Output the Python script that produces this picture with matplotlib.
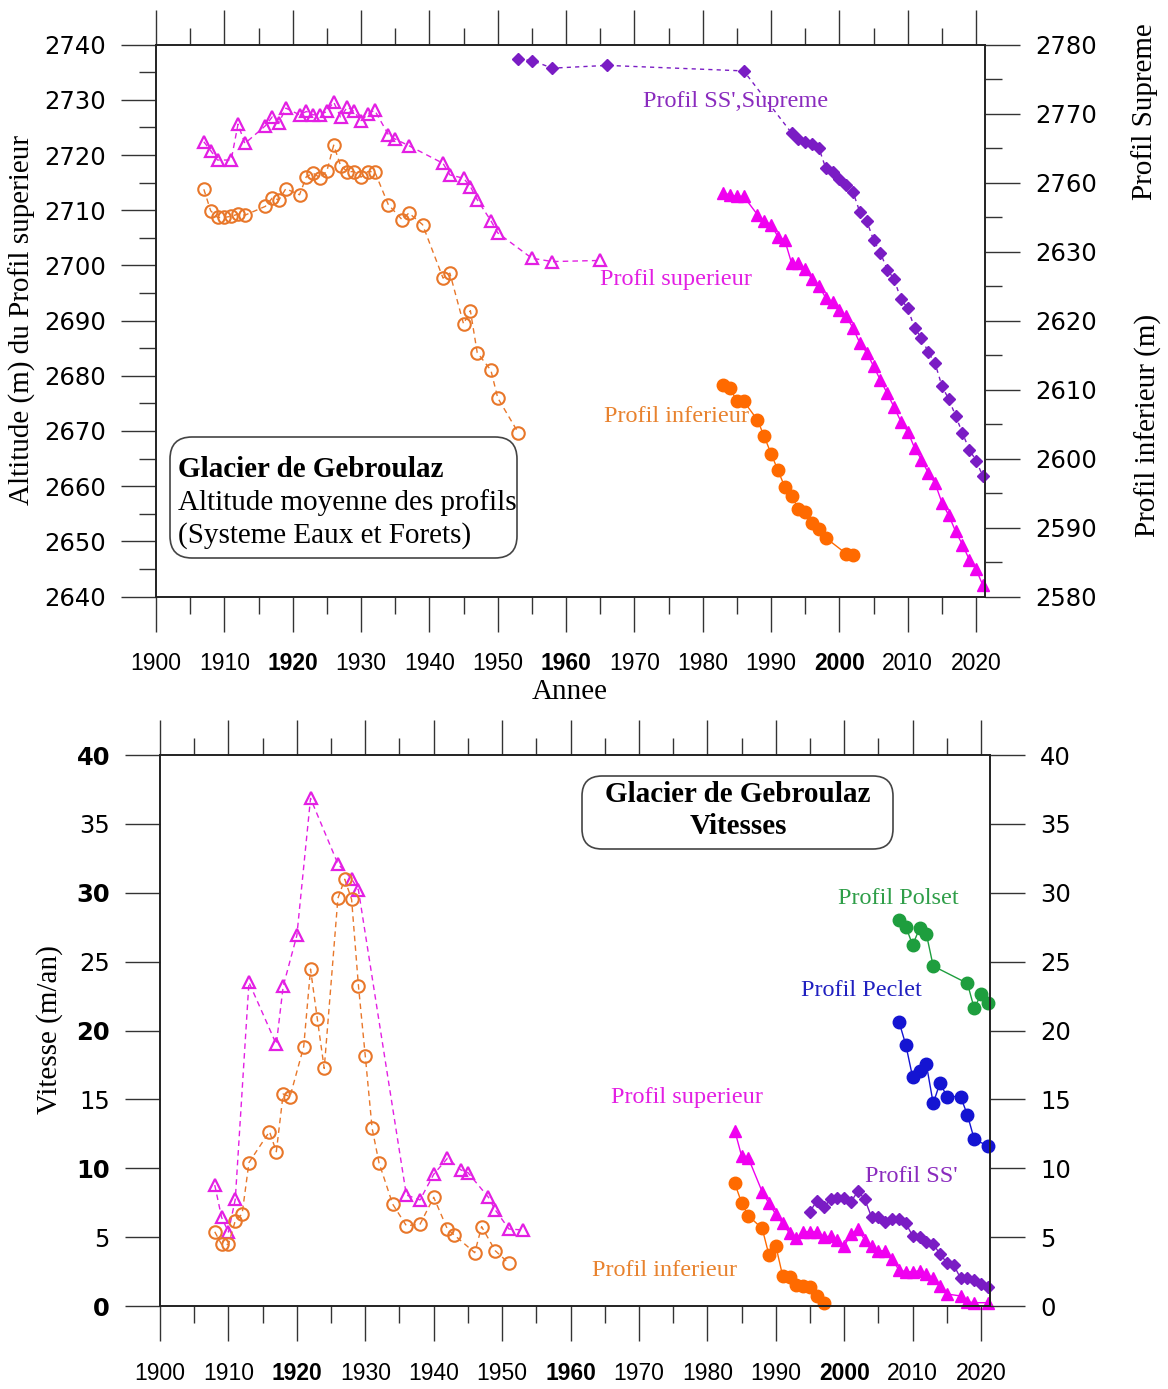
import matplotlib
matplotlib.use('Agg')
import matplotlib.pyplot as plt
from matplotlib.patches import FancyBboxPatch
from matplotlib.ticker import MultipleLocator

# ================= DATA =================
# --- Top chart: altitudes ---
sup_old_years = [1907, 1908, 1909, 1911, 1912, 1913, 1916, 1917, 1918, 1919, 1921, 1922, 1923, 1924,
                 1925, 1926, 1927, 1928, 1929, 1930, 1931, 1932, 1934, 1935, 1937, 1942, 1943, 1945,
                 1946, 1947, 1949, 1950, 1955, 1958, 1965]
sup_old_alt = [2722.4, 2720.8, 2719.1, 2719.1, 2725.6, 2722.1, 2725.3, 2726.9, 2725.9, 2728.5, 2727.3,
               2727.9, 2727.3, 2727.3, 2727.9, 2729.6, 2726.9, 2728.7, 2727.9, 2726.1, 2727.5, 2728.1,
               2723.7, 2722.9, 2721.7, 2718.5, 2716.4, 2715.8, 2714.3, 2711.9, 2708.1, 2705.9,
               2701.3, 2700.7, 2700.9]

inf_old_years = [1907, 1908, 1909, 1910, 1911, 1912, 1913, 1916, 1917, 1918, 1919, 1921, 1922, 1923,
                 1924, 1925, 1926, 1927, 1928, 1929, 1930, 1931, 1932, 1934, 1936, 1937, 1939, 1942,
                 1943, 1945, 1946, 1947, 1949, 1950, 1953]
inf_old_alt = [2713.8, 2709.9, 2708.7, 2708.7, 2708.9, 2709.3, 2709.1, 2710.7, 2712.2, 2711.9, 2713.9,
               2712.8, 2716.1, 2716.7, 2715.9, 2717.1, 2721.8, 2718.1, 2717.0, 2717.0, 2716.0, 2717.0,
               2717.0, 2711.0, 2708.3, 2709.5, 2707.4, 2697.7, 2698.6, 2689.4, 2691.8, 2684.2,
               2681.0, 2676.0, 2669.7]

supreme_years = [1953, 1955, 1958, 1966, 1986, 1993, 1994, 1995, 1996, 1997, 1998, 1999, 2000, 2001,
                 2002, 2003, 2004, 2005, 2006, 2007, 2008, 2009, 2010, 2011, 2012, 2013, 2014, 2015,
                 2016, 2017, 2018, 2019, 2020, 2021]
supreme_alt = [2777.9, 2777.7, 2776.6, 2777.0, 2776.2, 2767.2, 2766.4, 2765.9, 2765.6, 2765.0, 2762.1,
               2761.5, 2760.5, 2759.6, 2758.6, 2755.7, 2754.4, 2751.7, 2749.8, 2747.4, 2746.0, 2743.1,
               2741.8, 2738.9, 2737.5, 2735.4, 2733.8, 2730.5, 2728.6, 2726.2, 2723.7, 2721.3,
               2719.7, 2717.4]

sup_new_years = [1983, 1984, 1985, 1986, 1988, 1989, 1990, 1991, 1992, 1993, 1994, 1995, 1996, 1997,
                 1998, 1999, 2000, 2001, 2002, 2003, 2004, 2005, 2006, 2007, 2008, 2009, 2010, 2011,
                 2012, 2013, 2014, 2015, 2016, 2017, 2018, 2019, 2020, 2021]
sup_new_alt = [2713.1, 2712.8, 2712.5, 2712.5, 2709.2, 2708.0, 2707.4, 2705.2, 2704.6, 2700.4, 2700.4,
               2699.3, 2697.5, 2696.3, 2694.1, 2693.3, 2692.0, 2690.8, 2688.6, 2685.9, 2684.2, 2681.7,
               2679.2, 2676.8, 2674.3, 2671.7, 2669.9, 2666.9, 2664.8, 2662.4, 2660.5, 2657.0,
               2654.7, 2651.8, 2649.4, 2646.7, 2644.9, 2642.0]

inf_new_years = [1983, 1984, 1985, 1986, 1988, 1989, 1990, 1991, 1992, 1993, 1994, 1995, 1996, 1997,
                 1998, 2001, 2002]
inf_new_alt = [2610.7, 2610.2, 2608.3, 2608.3, 2605.6, 2603.2, 2600.7, 2598.3, 2595.9, 2594.6, 2592.7,
               2592.2, 2590.6, 2589.8, 2588.5, 2586.2, 2586.0]

# right axis is broken: upper part (Supreme) is shifted down by this offset
supreme_offset = 120
right_ticks = [2580, 2590, 2600, 2610, 2620, 2630, 2640, 2650, 2660]
right_tick_labels = ['2580', '2590', '2600', '2610', '2620', '2630', '2760', '2770', '2780']
left_ticks = [2640, 2650, 2660, 2670, 2680, 2690, 2700, 2710, 2720, 2730, 2740]
year_ticks = [1900, 1910, 1920, 1930, 1940, 1950, 1960, 1970, 1980, 1990, 2000, 2010, 2020]
bold_years = [1920, 1960, 2000]

# --- Bottom chart: velocities ---
v_sup_old_years = [1908, 1909, 1910, 1911, 1913, 1917, 1918, 1920, 1922, 1926, 1928, 1929, 1936, 1938,
                   1940, 1942, 1944, 1945, 1948, 1949, 1951, 1953]
v_sup_old = [8.78, 6.44, 5.37, 7.74, 23.5, 19.0, 23.2, 26.9, 36.85, 32.1, 31.0, 30.2, 8.06, 7.70,
             9.56, 10.72, 9.87, 9.68, 7.89, 6.97, 5.59, 5.52]

v_inf_old_years = [1908, 1909, 1910, 1911, 1912, 1913, 1916, 1917, 1918, 1919, 1921, 1922, 1923, 1924,
                   1926, 1927, 1928, 1929, 1930, 1931, 1932, 1934, 1936, 1938, 1940, 1942, 1943, 1946,
                   1947, 1949, 1951]
v_inf_old = [5.39, 4.47, 4.47, 6.19, 6.68, 10.41, 12.66, 11.2, 15.39, 15.2, 18.82, 24.46, 20.81, 17.25,
             29.6, 30.98, 29.52, 23.25, 18.15, 12.9, 10.41, 7.40, 5.83, 5.93, 7.89, 5.59, 5.15, 3.87,
             5.76, 4.01, 3.10]

v_polset_years = [2008, 2009, 2010, 2011, 2012, 2013, 2018, 2019, 2020, 2021]
v_polset = [28.02, 27.54, 26.2, 27.42, 27.0, 24.68, 23.42, 21.6, 22.65, 21.97]

v_peclet_years = [2008, 2009, 2010, 2011, 2012, 2013, 2014, 2015, 2017, 2018, 2019, 2021]
v_peclet = [20.64, 18.95, 16.6, 17.08, 17.54, 14.71, 16.21, 15.2, 15.2, 13.87, 12.1, 11.62]

v_sup_new_years = [1984, 1985, 1986, 1988, 1989, 1990, 1991, 1992, 1993, 1994, 1995, 1996, 1997, 1998,
                   1999, 2000, 2001, 2002, 2003, 2004, 2005, 2006, 2007, 2008, 2009, 2010, 2011, 2012,
                   2013, 2014, 2015, 2017, 2018, 2019, 2021]
v_sup_new = [12.73, 10.89, 10.72, 8.3, 7.45, 6.65, 6.0, 5.28, 4.91, 5.4, 5.4, 5.4, 4.99, 5.08, 4.79,
             4.36, 5.23, 5.57, 4.79, 4.36, 4.01, 4.01, 3.39, 2.61, 2.49, 2.49, 2.56, 2.32, 2.01, 1.45,
             0.87, 0.73, 0.31, 0.24, 0.24]

v_ss_years = [1995, 1996, 1997, 1998, 1999, 2000, 2001, 2002, 2003, 2004, 2005, 2006, 2007, 2008,
              2009, 2010, 2011, 2012, 2013, 2014, 2015, 2016, 2017, 2018, 2019, 2020, 2021]
v_ss = [6.85, 7.65, 7.16, 7.74, 7.82, 7.82, 7.57, 8.35, 7.74, 6.44, 6.44, 6.12, 6.29, 6.29, 6.0, 5.08,
        4.99, 4.67, 4.5, 3.77, 3.14, 2.98, 2.01, 2.01, 1.89, 1.6, 1.36]

v_inf_new_years = [1984, 1985, 1986, 1988, 1989, 1990, 1991, 1992, 1993, 1994, 1995, 1996, 1997]
v_inf_new = [8.9, 7.5, 6.53, 5.64, 3.7, 4.36, 2.18, 2.08, 1.52, 1.45, 1.36, 0.73, 0.24]

v_ticks = [0, 5, 10, 15, 20, 25, 30, 35, 40]

# ================= STYLE =================
MAG = '#E31FE3'
MAG_FILL = '#F000F0'
ORA = '#E8772A'
ORA_FILL = '#FF6A00'
PUR = '#7A1CC4'
GRN = '#1E9E3E'
BLU = '#1414D2'
SERIF = 'Liberation Serif'
SANS_X = 'Liberation Sans'
SANS_Y = 'DejaVu Sans'
YFS = 17.5

W, H = 1168, 1389
fig = plt.figure(figsize=(W / 100, H / 100), dpi=100)


def fx(px):
    return px / W


def fy(py):
    return 1 - py / H


def style(ax):
    for sp in ax.spines.values():
        sp.set_linewidth(1.2)
        sp.set_color('#222222')
    ax.tick_params(which='major', length=25, width=1.0, color='#333333', direction='out')
    ax.tick_params(which='minor', length=12, width=1.0, color='#333333', direction='out')


def xaxis_setup(ax):
    ax.set_xlim(1900, 2021.3)
    ax.set_xticks(year_ticks)
    ax.set_xticklabels([str(y) for y in year_ticks], fontfamily=SANS_X, fontsize=16.5)
    for lab, y in zip(ax.get_xticklabels(), year_ticks):
        if y in bold_years:
            lab.set_fontweight('bold')
    ax.xaxis.set_minor_locator(MultipleLocator(5))
    ax.tick_params(axis='x', which='both', top=True, labeltop=False, bottom=True)
    ax.tick_params(axis='x', which='major', pad=15)


# ---------------- TOP CHART ----------------
ax1 = fig.add_axes([fx(156), fy(596.5), (985 - 156) / W, (596.5 - 44.7) / H])
style(ax1)
xaxis_setup(ax1)
ax1.set_ylim(2640, 2740)
ax1.set_yticks(left_ticks)
ax1.set_yticklabels([str(v) for v in left_ticks], fontfamily=SANS_Y, fontsize=YFS)
ax1.yaxis.set_minor_locator(MultipleLocator(5))
ax1.tick_params(axis='y', which='major', pad=11)

ax1.plot(sup_old_years, sup_old_alt, linestyle=(0, (4, 3)), color=MAG, lw=1.0,
         marker='^', ms=8.5, mfc='none', mec=MAG, mew=1.6, clip_on=False)
ax1.plot(inf_old_years, inf_old_alt, linestyle=(0, (4, 3)), color=ORA, lw=1.0,
         marker='o', ms=9, mfc='none', mec=ORA, mew=1.5, clip_on=False)
ax1.plot(sup_new_years, sup_new_alt, linestyle='-', color=MAG_FILL, lw=1.0,
         marker='^', ms=8.5, mfc=MAG_FILL, mec=MAG_FILL, clip_on=False)

ax1r = ax1.twinx()
style(ax1r)
ax1r.set_ylim(2580, 2660)
ax1r.set_yticks(right_ticks)
ax1r.set_yticklabels(right_tick_labels, fontfamily=SANS_Y, fontsize=YFS)
ax1r.yaxis.set_minor_locator(MultipleLocator(5))
ax1r.tick_params(axis='y', which='major', pad=11)

ax1r.plot(supreme_years, [a - supreme_offset for a in supreme_alt], linestyle=(0, (3, 3)),
          color=PUR, lw=1.0, marker='D', ms=6, mfc=PUR, mec=PUR, clip_on=False)
ax1r.plot(inf_new_years, inf_new_alt, linestyle='-', color=ORA_FILL, lw=1.0,
          marker='o', ms=9, mfc=ORA_FILL, mec=ORA_FILL, clip_on=False)

# labels / texts, top chart
fig.text(fx(22), fy(320), 'Altitude (m) du Profil superieur', rotation=90, ha='center', va='center',
         fontfamily=SERIF, fontsize=21)
fig.text(fx(570), fy(692), 'Annee', ha='center', va='center', fontfamily=SERIF, fontsize=21)
fig.text(fx(1145), fy(112), 'Profil Supreme', rotation=90, ha='center', va='center',
         fontfamily=SERIF, fontsize=21)
fig.text(fx(1148), fy(425), 'Profil inferieur (m)', rotation=90, ha='center', va='center',
         fontfamily=SERIF, fontsize=21)

fig.text(fx(736), fy(101), "Profil SS',Supreme", ha='center', va='center', color='#8A2BBE',
         fontfamily=SERIF, fontsize=17.5)
fig.text(fx(676), fy(279), 'Profil superieur', ha='center', va='center', color=MAG,
         fontfamily=SERIF, fontsize=17.5)
fig.text(fx(677), fy(417), 'Profil inferieur', ha='center', va='center', color='#E8822E',
         fontfamily=SERIF, fontsize=17.5)

asp = W / H
box1 = FancyBboxPatch((fx(170), fy(558)), (517 - 170) / W, (558 - 437) / H,
                      boxstyle='round,pad=0,rounding_size=%f' % (22 / W),
                      mutation_aspect=asp, transform=fig.transFigure,
                      fc='white', ec='#444444', lw=1.2)
fig.add_artist(box1)
fig.text(fx(178), fy(470), 'Glacier de Gebroulaz', ha='left', va='center', fontfamily=SERIF,
         fontsize=21, fontweight='bold')
fig.text(fx(178), fy(503), 'Altitude moyenne des profils', ha='left', va='center', fontfamily=SERIF,
         fontsize=21)
fig.text(fx(178), fy(536), '(Systeme Eaux et Forets)', ha='left', va='center', fontfamily=SERIF,
         fontsize=21)

# ---------------- BOTTOM CHART ----------------
ax2 = fig.add_axes([fx(160), fy(1306), (990 - 160) / W, (1306 - 755) / H])
style(ax2)
xaxis_setup(ax2)
ax2.set_ylim(0, 40)
ax2.set_yticks(v_ticks)
ax2.set_yticklabels([str(v) for v in v_ticks], fontfamily=SANS_Y, fontsize=YFS)
for lab, v in zip(ax2.get_yticklabels(), v_ticks):
    if v % 10 == 0:
        lab.set_fontweight('bold')
ax2.tick_params(axis='y', which='major', pad=11)

ax2r = ax2.twinx()
style(ax2r)
ax2r.set_ylim(0, 40)
ax2r.set_yticks(v_ticks)
ax2r.set_yticklabels([str(v) for v in v_ticks], fontfamily=SANS_Y, fontsize=YFS)
ax2r.tick_params(axis='y', which='major', pad=11)

ax2.plot(v_sup_old_years, v_sup_old, linestyle=(0, (4, 3)), color=MAG, lw=1.0,
         marker='^', ms=8.5, mfc='none', mec=MAG, mew=1.6, clip_on=False)
ax2.plot(v_inf_old_years, v_inf_old, linestyle=(0, (4, 3)), color=ORA, lw=1.0,
         marker='o', ms=9, mfc='none', mec=ORA, mew=1.5, clip_on=False)
ax2.plot(v_polset_years, v_polset, '-', color=GRN, lw=1.0, marker='o', ms=9,
         mfc=GRN, mec=GRN, clip_on=False)
ax2.plot(v_peclet_years, v_peclet, '-', color=BLU, lw=1.0, marker='o', ms=9,
         mfc=BLU, mec=BLU, clip_on=False)
ax2.plot(v_ss_years, v_ss, '-', color=PUR, lw=1.0, marker='D', ms=6,
         mfc=PUR, mec=PUR, clip_on=False)
ax2.plot(v_sup_new_years, v_sup_new, '-', color=MAG_FILL, lw=1.0, marker='^', ms=8.5,
         mfc=MAG_FILL, mec=MAG_FILL, clip_on=False)
ax2.plot(v_inf_new_years, v_inf_new, '-', color=ORA_FILL, lw=1.0, marker='o', ms=9,
         mfc=ORA_FILL, mec=ORA_FILL, clip_on=False)

fig.text(fx(50), fy(1030), 'Vitesse (m/an)', rotation=90, ha='center', va='center',
         fontfamily=SERIF, fontsize=21)

box2 = FancyBboxPatch((fx(582), fy(849)), (893 - 582) / W, (849 - 776) / H,
                      boxstyle='round,pad=0,rounding_size=%f' % (20 / W),
                      mutation_aspect=asp, transform=fig.transFigure,
                      fc='white', ec='#444444', lw=1.2)
fig.add_artist(box2)
fig.text(fx(738), fy(795), 'Glacier de Gebroulaz', ha='center', va='center', fontfamily=SERIF,
         fontsize=21, fontweight='bold')
fig.text(fx(738), fy(827), 'Vitesses', ha='center', va='center', fontfamily=SERIF,
         fontsize=21, fontweight='bold')

fig.text(fx(898), fy(898), 'Profil Polset', ha='center', va='center', color='#2E9E48',
         fontfamily=SERIF, fontsize=17.5)
fig.text(fx(861), fy(990), 'Profil Peclet', ha='center', va='center', color='#2020C0',
         fontfamily=SERIF, fontsize=17.5)
fig.text(fx(687), fy(1097), 'Profil superieur', ha='center', va='center', color=MAG,
         fontfamily=SERIF, fontsize=17.5)
fig.text(fx(911), fy(1176), "Profil SS'", ha='center', va='center', color='#8A2BBE',
         fontfamily=SERIF, fontsize=17.5)
fig.text(fx(664), fy(1270), 'Profil inferieur', ha='center', va='center', color='#E8822E',
         fontfamily=SERIF, fontsize=17.5)

fig.savefig('out.png', dpi=100)
